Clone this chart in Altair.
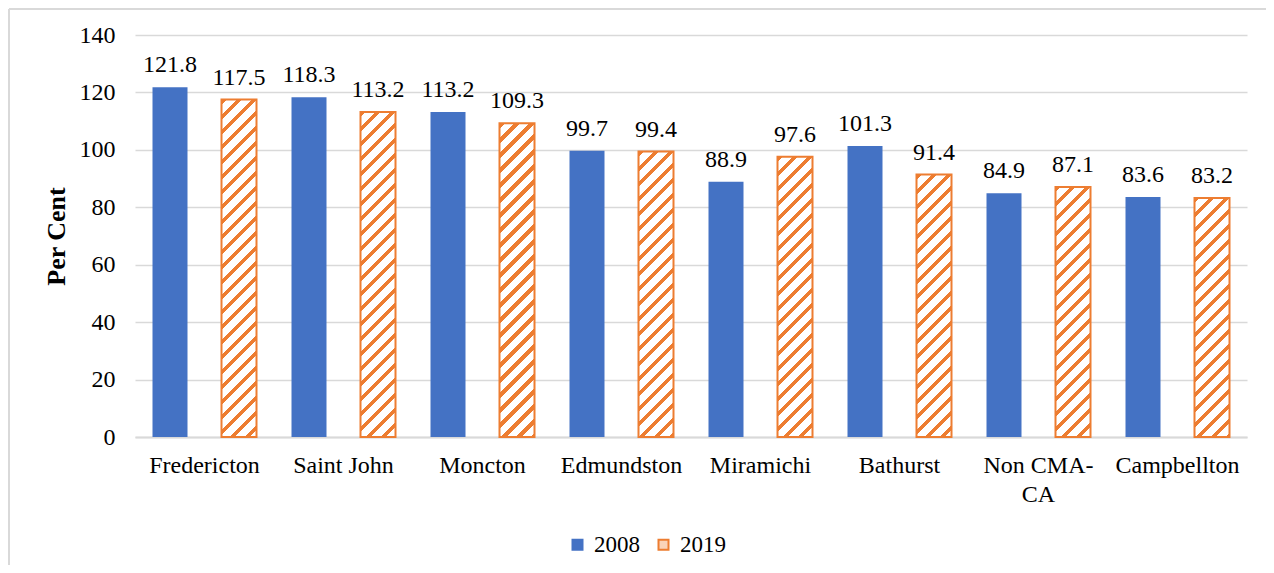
import altair as alt
import pandas as pd

# ---------------- data ----------------
categories = ["Fredericton", "Saint John", "Moncton", "Edmundston",
              "Miramichi", "Bathurst", "Non CMA-CA", "Campbellton"]
values_2008 = [121.8, 118.3, 113.2, 99.7, 88.9, 101.3, 84.9, 83.6]
values_2019 = [117.5, 113.2, 109.3, 99.4, 97.6, 91.4, 87.1, 83.2]
series = ["2008", "2019"]
y_ticks = [0, 20, 40, 60, 80, 100, 120, 140]

# ---------------- style ----------------
BLUE = "#4472C4"
ORANGE = "#ED7D31"
GRID = "#D9D9D9"
FONT = "Liberation Serif"
FS = 24

W, H = 1112, 402
YMAX = 140
STEP = W / len(categories)          # band step per category
BAR_W = 35.0
SUB_STEP = 69.0
P_IN = (SUB_STEP - BAR_W) / SUB_STEP
P_OUT = (STEP / SUB_STEP - 2 + P_IN) / 2
PERIOD = 15.0                       # hatch period (px, vertical)
FRAC = 0.36                         # share of orange in one period

rows = []
for c, a, b in zip(categories, values_2008, values_2019):
    rows.append({"category": c, "series": "2008", "value": a})
    rows.append({"category": c, "series": "2019", "value": b})
df = pd.DataFrame(rows)


def hatch(v):
    """diagonal-stripe gradient for a bar of value v (45 deg in pixel space)"""
    h = v * H / YMAX
    w = BAR_W
    s = (w + h) / (w * w + h * h)
    n = (w + h) / PERIOD
    stops = []
    k = 0
    while k < n:
        a = k / n
        b = min((k + FRAC) / n, 1.0)
        c = min((k + 1) / n, 1.0)
        stops += [{"offset": a, "color": ORANGE}, {"offset": b, "color": ORANGE},
                  {"offset": b, "color": "#FFFFFF"}, {"offset": c, "color": "#FFFFFF"}]
        k += 1
    return {"gradient": "linear", "stops": stops,
            "x1": 0, "y1": 0, "x2": w * s, "y2": h * s}


x_enc = alt.X(
    "category:N", sort=categories,
    scale=alt.Scale(domain=categories, paddingInner=0, paddingOuter=0),
    axis=alt.Axis(title=None, labelAngle=0, labelFont=FONT, labelFontSize=FS,
                  labelColor="black", ticks=False, domainColor=GRID, domainWidth=2,
                  labelPadding=16, labelLineHeight=29,
                  labelExpr="datum.label == 'Non CMA-CA' ? ['Non CMA-', 'CA'] : datum.label"),
)
xo_enc = alt.XOffset("series:N",
                     scale=alt.Scale(domain=series, paddingInner=P_IN, paddingOuter=P_OUT))
y_enc = alt.Y(
    "value:Q", scale=alt.Scale(domain=[0, YMAX], nice=False),
    axis=alt.Axis(title="Per Cent", values=y_ticks, labelFont=FONT, labelFontSize=FS,
                  labelColor="black", ticks=False, domain=False, gridColor=GRID,
                  gridWidth=1.5, labelPadding=20, titleFont=FONT, titleFontSize=26,
                  titleFontWeight="bold", titleColor="black", titleX=-79, titleY=201,
                  titleAngle=270, titleAlign="center", titleBaseline="middle"),
)

legend = alt.Legend(title=None, orient="none", legendX=431, legendY=498,
                    direction="horizontal", labelFont=FONT, labelFontSize=23,
                    labelColor="black", symbolType="square", symbolSize=100,
                    symbolStrokeWidth=2, labelOffset=5, columnPadding=12)

blue = alt.Chart(df).transform_filter("datum.series == '2008'").mark_bar(strokeWidth=0).encode(
    x=x_enc, xOffset=xo_enc, y=y_enc,
    fill=alt.Fill("series:N", scale=alt.Scale(domain=series, range=[BLUE, "#FAD3B8"]), legend=legend),
    stroke=alt.Stroke("series:N", scale=alt.Scale(domain=series, range=[BLUE, ORANGE]), legend=legend),
)

hatched = []
for c, v in zip(categories, values_2019):
    hatched.append(
        alt.Chart(df)
        .transform_filter(f"datum.category == '{c}' && datum.series == '2019'")
        .mark_bar(fill=hatch(v), stroke=ORANGE, strokeWidth=2)
        .encode(x=x_enc, xOffset=xo_enc, y=y_enc)
    )

labels = alt.Chart(df).mark_text(font=FONT, fontSize=FS, baseline="alphabetic", dy=-15,
                                 color="black").encode(
    x=x_enc, xOffset=xo_enc, y=y_enc, text=alt.Text("value:Q", format=".1f"))

frame_df = pd.DataFrame({"k": [0]})
frame_left = alt.Chart(frame_df).mark_rule(color=GRID, strokeWidth=2).encode(
    x=alt.value(-126), y=alt.value(-26), y2=alt.value(600))
frame_top = alt.Chart(frame_df).mark_rule(color=GRID, strokeWidth=2).encode(
    x=alt.value(-126), x2=alt.value(1200), y=alt.value(-26))

chart = alt.layer(frame_left, frame_top, blue, *hatched, labels).properties(
    width=W, height=H,
    autosize=alt.AutoSizeParams(type="none"),
    padding={"left": 127, "top": 27, "right": 19, "bottom": 128},
).configure(font=FONT).configure_view(stroke=None).configure_legend(
    labelFont=FONT, labelFontSize=23, labelColor="black")

chart.save("out.html", embed_options={"renderer": "svg", "actions": False})
